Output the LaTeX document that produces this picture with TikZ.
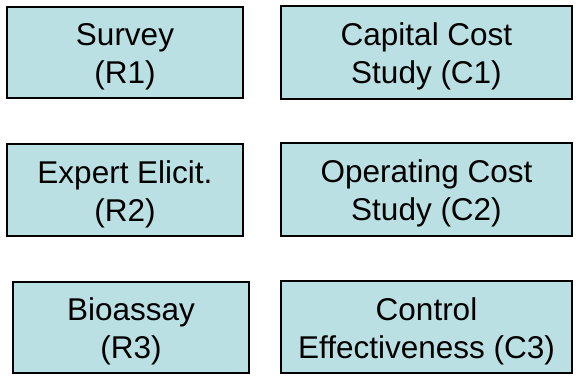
\documentclass[tikz,border=0pt]{standalone}
\usepackage{fontspec}
\setmainfont{Liberation Sans}
\definecolor{boxfill}{HTML}{BBE0E3}
\tikzset{
  box/.style={draw=black, line width=2pt, fill=boxfill, rectangle, inner sep=0pt},
  lbl/.style={align=center, inner sep=0pt, font=\fontsize{31.5pt}{38pt}\selectfont, yshift=-4pt},
}
\begin{document}
\begin{tikzpicture}[x=1pt,y=1pt]
\useasboundingbox (0,0) rectangle (581,-377);
% left column
\node[box, minimum width=236pt, minimum height=91pt] (r1) at (125,-52.5) {};
\node[lbl] (r1t) at (r1.center) {Survey\\(R1)};
\node[box, minimum width=236pt, minimum height=92pt] (r2) at (125,-190) {};
\node[lbl] (r2t) at (r2.center) {Expert Elicit.\\(R2)};
\node[box, minimum width=236pt, minimum height=91pt] (r3) at (131,-327.5) {};
\node[lbl] (r3t) at (r3.center) {Bioassay\\(R3)};
% right column
\node[box, minimum width=291pt, minimum height=93pt] (c1) at (426.5,-52.5) {};
\node[lbl] (c1t) at (c1.center) {Capital Cost\\Study (C1)};
\node[box, minimum width=291pt, minimum height=93pt] (c2) at (426.5,-189.5) {};
\node[lbl] (c2t) at (c2.center) {Operating Cost\\Study (C2)};
\node[box, minimum width=291pt, minimum height=92pt] (c3) at (426.5,-327) {};
\node[lbl] (c3t) at (c3.center) {Control\\Effectiveness (C3)};
\end{tikzpicture}
\end{document}
